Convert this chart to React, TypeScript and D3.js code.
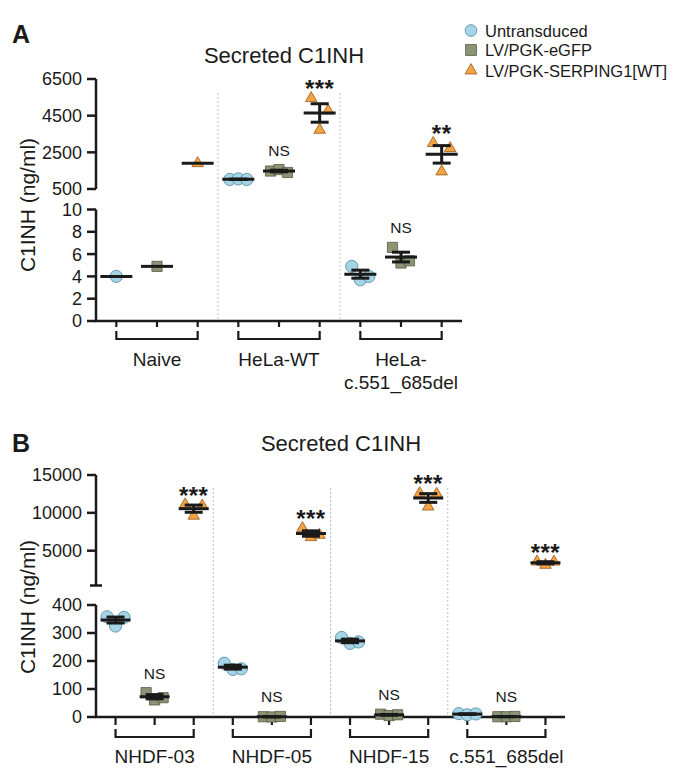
import * as d3 from 'd3';
import React from 'react';

// ---- data ----
const seriesNames = ['Untransduced', 'LV/PGK-eGFP', 'LV/PGK-SERPING1[WT]'];

// Panel A (ng/ml)
const groupsA = ['Naive', 'HeLa-WT', 'HeLa-|c.551_685del'];
const untransducedA = [[4.0], [1020, 1050, 1020], [4.9, 3.7, 4.0]];
const egfpA = [[4.9], [1480, 1560, 1400], [6.6, 5.2, 5.4]];
const serpingA = [[1900], [5450, 3720, 4770], [3000, 1450, 2720]];
// axis segment per group and series: hi = upper broken segment, lo = lower
const segmentA = [['lo', 'lo', 'hi'], ['hi', 'hi', 'hi'], ['lo', 'lo', 'hi']];
const signifA = [['', '', ''], ['', 'NS', '***'], ['', 'NS', '**']];
const hiDomainA = [500, 6500];
const hiTicksA = [500, 2500, 4500, 6500];
const loDomainA = [0, 10];
const loTicksA = [0, 2, 4, 6, 8, 10];

// Panel B (ng/ml)
const groupsB = ['NHDF-03', 'NHDF-05', 'NHDF-15', 'c.551_685del'];
const untransducedB = [[358, 325, 356], [192, 170, 172], [284, 263, 268], [12, 8, 11]];
const egfpB = [[87, 61, 69], [1, 0, 2], [10, 5, 8], [1, 1, 2]];
const serpingB = [[11100, 9600, 10950], [7960, 6770, 7070], [12580, 10810, 12490], [3550, 3110, 3540]];
const segmentB = [['lo', 'lo', 'hi'], ['lo', 'lo', 'hi'], ['lo', 'lo', 'hi'], ['lo', 'lo', 'hi']];
const signifB = [['', 'NS', '***'], ['', 'NS', '***'], ['', 'NS', '***'], ['', 'NS', '***']];
const hiDomainB = [400, 15000];
const hiTicksB = [5000, 10000, 15000];
const loDomainB = [0, 400];
const loTicksB = [0, 100, 200, 300, 400];

const FONT = '"Liberation Sans", Arial, Helvetica, sans-serif';
const INK = '#1a1a1a';
const styles = [
  { fill: '#a5d4e7', stroke: '#4f86a0', type: d3.symbolCircle, size: 118, legend: 108 },
  { fill: '#8b9576', stroke: '#545b44', type: d3.symbolSquare, size: 104, legend: 118 },
  { fill: '#f2a343', stroke: '#99591d', type: d3.symbolTriangle, size: 58, legend: 62 },
];

interface Layout {
  letter: string;
  letterY: number;
  title: string;
  titleX: number;
  titleY: number;
  xRange: [number, number];
  hiRange: [number, number];
  loRange: [number, number];
  hiStub: boolean;
  sepTop: number;
  yLabelY: number;
  tickLen: number;
  bracketY: number;
  bracketEnd: number;
  labelY: number;
  meanW: number;
}

const mean = (v: number[]) => d3.mean(v) as number;
const sem = (v: number[]) => (v.length > 1 ? (d3.deviation(v) as number) / Math.sqrt(v.length) : 0);

const Panel: React.FC<{
  layout: Layout;
  groups: string[];
  values: number[][][]; // [series][group][points]
  segment: string[][];
  signif: string[][];
  hiDomain: number[];
  hiTicks: number[];
  loDomain: number[];
  loTicks: number[];
}> = ({ layout: L, groups, values, segment, signif, hiDomain, hiTicks, loDomain, loTicks }) => {
  const nCat = groups.length * 3;
  const x = d3.scaleBand<number>().domain(d3.range(nCat)).range(L.xRange);
  const cx = (i: number) => (x(i) as number) + x.bandwidth() / 2;
  const yHi = d3.scaleLinear().domain(hiDomain).range(L.hiRange);
  const yLo = d3.scaleLinear().domain(loDomain).range(L.loRange);
  const axisX = L.xRange[0];
  const baseY = L.loRange[0];
  const step = 8.5;

  const marks: React.ReactNode[] = [];
  const bars: React.ReactNode[] = [];
  const notes: React.ReactNode[] = [];

  groups.forEach((_, g) => {
    for (let s = 0; s < 3; s++) {
      const pts = values[s][g];
      const y = segment[g][s] === 'hi' ? yHi : yLo;
      const c = cx(g * 3 + s);
      const st = styles[s];
      const sym = d3.symbol().type(st.type).size(st.size)() as string;
      let top = Infinity;
      pts.forEach((v, i) => {
        const px = c + (i - (pts.length - 1) / 2) * step;
        const py = y(v);
        top = Math.min(top, py - 6);
        marks.push(
          <path key={`m${g}-${s}-${i}`} d={sym} transform={`translate(${px},${py})`}
            fill={st.fill} stroke={st.stroke} strokeWidth={0.8} />
        );
      });
      const m = mean(pts);
      const e = sem(pts);
      const ym = y(m);
      bars.push(
        <line key={`mean${g}-${s}`} x1={c - L.meanW / 2} x2={c + L.meanW / 2} y1={ym} y2={ym}
          stroke={INK} strokeWidth={3} />
      );
      if (e > 0) {
        const y1 = y(m + e);
        const y2 = y(m - e);
        top = Math.min(top, y1 - 1.5);
        bars.push(
          <g key={`err${g}-${s}`} stroke={INK} strokeWidth={3}>
            <line x1={c} x2={c} y1={y1} y2={y2} />
            <line x1={c - 9} x2={c + 9} y1={y1} y2={y1} />
            <line x1={c - 9} x2={c + 9} y1={y2} y2={y2} />
          </g>
        );
      }
      const lab = signif[g][s];
      if (lab === 'NS') {
        notes.push(
          <text key={`n${g}-${s}`} x={c} y={top - 8} textAnchor="middle" fontSize={15.5}>NS</text>
        );
      } else if (lab) {
        notes.push(
          <text key={`n${g}-${s}`} x={c} y={top + 5} textAnchor="middle" fontSize={24}
            fontWeight="bold" letterSpacing={0.5}>{lab}</text>
        );
      }
    }
  });

  return (
    <g fontFamily={FONT} fill={INK}>
      <text x={12} y={L.letterY} fontSize={25} fontWeight="bold">{L.letter}</text>
      <text x={L.titleX} y={L.titleY} fontSize={22} textAnchor="middle">{L.title}</text>
      <text transform={`translate(${27},${L.yLabelY}) rotate(-90)`} textAnchor="middle"
        dominantBaseline="central" fontSize={21}>C1INH (ng/ml)</text>

      {/* dotted separators between groups */}
      {d3.range(1, groups.length).map((g) => (
        <line key={`sep${g}`} x1={x(g * 3) as number} x2={x(g * 3) as number} y1={L.sepTop} y2={baseY}
          stroke="#bdbdbd" strokeWidth={1} strokeDasharray="2,2" />
      ))}

      {/* upper segment axis */}
      <g stroke={INK} strokeWidth={2.5}>
        <line x1={axisX} x2={axisX} y1={L.hiRange[0]} y2={L.hiRange[1]} />
        {hiTicks.map((t) => (
          <line key={`ht${t}`} x1={axisX - 9} x2={axisX} y1={yHi(t)} y2={yHi(t)} />
        ))}
        {L.hiStub && <line x1={axisX - 6} x2={axisX + 6} y1={L.hiRange[0]} y2={L.hiRange[0]} />}
        <line x1={axisX} x2={axisX} y1={L.loRange[0]} y2={L.loRange[1]} />
        {loTicks.map((t) => (
          <line key={`lt${t}`} x1={axisX - 9} x2={axisX} y1={yLo(t)} y2={yLo(t)} />
        ))}
        <line x1={axisX - 1} x2={L.xRange[1]} y1={baseY} y2={baseY} />
      </g>
      {hiTicks.map((t) => (
        <text key={`hl${t}`} x={axisX - 14} y={yHi(t)} dy="0.36em" textAnchor="end" fontSize={18}>{t}</text>
      ))}
      {loTicks.map((t) => (
        <text key={`ll${t}`} x={axisX - 14} y={yLo(t)} dy="0.36em" textAnchor="end" fontSize={18}>{t}</text>
      ))}

      {/* category ticks and group brackets */}
      <g stroke={INK} strokeWidth={2.2} fill="none">
        {d3.range(nCat).map((i) => (
          <line key={`ct${i}`} x1={cx(i)} x2={cx(i)} y1={baseY} y2={baseY + L.tickLen} />
        ))}
        {groups.map((_, g) => (
          <path key={`br${g}`}
            d={`M${cx(g * 3)},${L.bracketEnd}V${L.bracketY}H${cx(g * 3 + 2)}V${L.bracketEnd}`} />
        ))}
      </g>
      {groups.map((name, g) =>
        name.split('|').map((line, k) => (
          <text key={`gl${g}-${k}`} x={cx(g * 3 + 1)} y={L.labelY + k * 23} textAnchor="middle" fontSize={19}>
            {line}
          </text>
        ))
      )}

      {marks}
      {bars}
      {notes}
    </g>
  );
};

const layoutA: Layout = {
  letter: 'A', letterY: 43, title: 'Secreted C1INH', titleX: 284, titleY: 63,
  xRange: [96, 462], hiRange: [189, 79], loRange: [321, 209.5], hiStub: false,
  sepTop: 93, yLabelY: 205, tickLen: 6, bracketY: 339, bracketEnd: 331, labelY: 366, meanW: 32,
};
const layoutB: Layout = {
  letter: 'B', letterY: 452, title: 'Secreted C1INH', titleX: 341, titleY: 451,
  xRange: [96, 565], hiRange: [585.5, 475], loRange: [717, 605], hiStub: true,
  sepTop: 488, yLabelY: 607, tickLen: 8, bracketY: 737, bracketEnd: 729, labelY: 763, meanW: 30,
};

const legendY = [36.5, 56, 76.5];

export default function App() {
  return (
    <svg width={679} height={773} style={{ position: 'absolute', left: 0, top: 0, background: '#fff' }}>
      <rect width={679} height={773} fill="#fff" />
      <Panel layout={layoutA} groups={groupsA} values={[untransducedA, egfpA, serpingA]}
        segment={segmentA} signif={signifA} hiDomain={hiDomainA} hiTicks={hiTicksA}
        loDomain={loDomainA} loTicks={loTicksA} />
      <Panel layout={layoutB} groups={groupsB} values={[untransducedB, egfpB, serpingB]}
        segment={segmentB} signif={signifB} hiDomain={hiDomainB} hiTicks={hiTicksB}
        loDomain={loDomainB} loTicks={loTicksB} />
      <g fontFamily={FONT} fill={INK}>
        {seriesNames.map((name, i) => (
          <g key={name}>
            <path d={d3.symbol().type(styles[i].type).size(styles[i].legend)() as string}
              transform={`translate(471,${legendY[i] - 6})`} fill={styles[i].fill}
              stroke={styles[i].stroke} strokeWidth={0.8} />
            <text x={485} y={legendY[i]} fontSize={16.5}>{name}</text>
          </g>
        ))}
      </g>
    </svg>
  );
}
